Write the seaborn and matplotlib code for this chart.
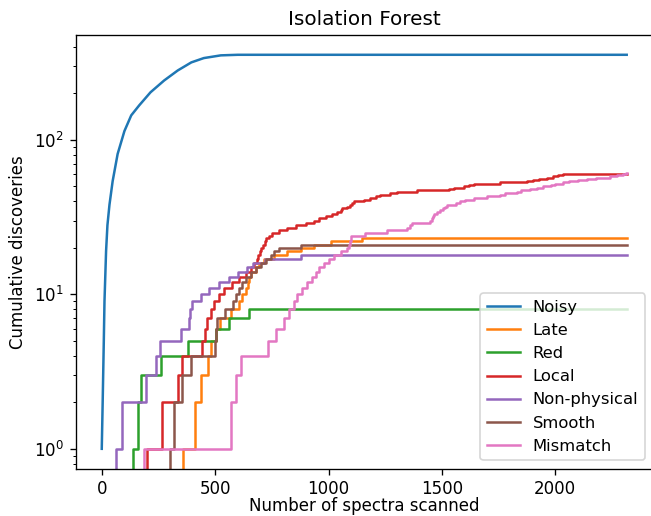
import numpy as np
import pandas as pd
import seaborn as sns
import matplotlib
matplotlib.use("Agg")
import matplotlib.pyplot as plt

# Cumulative discoveries per anomaly class, Isolation Forest ranking

n_scanned = 2315

noisy_x = [0, 4, 9, 12, 19, 25, 34, 48, 70, 100, 130, 165, 215, 275, 335, 395, 450, 525, 600, 650, 2315]
noisy_y = [1, 2, 5, 9, 19, 28, 38, 54, 81, 114, 144, 167, 203, 242, 281, 317, 338, 352, 355, 355, 355]

# other classes: spectrum index at which each new discovery happens
late = [357, 410, 436, 470, 481, 503, 520, 570, 605, 620, 635, 643, 650, 657, 679, 694,
        716, 760, 818, 877, 936, 1012, 1149]
red = [136, 161, 173, 260, 380, 504, 562, 650]
local = [200, 265, 338, 353, 440, 455, 465, 480, 495, 518, 540, 576, 605, 635, 657, 672,
         683, 689, 697, 704, 711, 719, 726, 737, 752, 781, 818, 855, 899, 936, 958, 987,
         1016, 1038, 1053, 1060, 1082, 1095, 1105, 1112, 1156, 1185, 1210, 1229, 1273,
         1302, 1390, 1530, 1552, 1596, 1620, 1640, 1757, 1874, 1900, 1930, 1962, 1990,
         2010, 2036]
non_physical = [63, 88, 197, 240, 259, 349, 383, 388, 400, 437, 475, 515, 560, 600, 640,
                666, 718, 880]
smooth = [299, 318, 354, 394, 498, 503, 508, 545, 577, 591, 605, 620, 635, 657, 679, 701,
          723, 745, 760, 781, 877]
mismatch = [188, 572, 591, 616, 731, 767, 804, 826, 848, 862, 884, 906, 928, 945, 960, 980,
            1002, 1024, 1053, 1082, 1090, 1095, 1097, 1100, 1163, 1258, 1346, 1360, 1368,
            1449, 1455, 1460, 1464, 1480, 1493, 1505, 1515, 1522, 1560, 1581, 1600, 1640,
            1700, 1757, 1780, 1830, 1850, 1889, 1920, 1948, 1980, 2000, 2036, 2060, 2100,
            2139, 2180, 2241, 2270, 2300, 2310]

steps = {
    "Late": late,
    "Red": red,
    "Local": local,
    "Non-physical": non_physical,
    "Smooth": smooth,
    "Mismatch": mismatch,
}

colors = sns.color_palette("tab10")

fig, ax = plt.subplots(figsize=(651 / 120, 516 / 120), dpi=120)
fig.subplots_adjust(left=0.116, right=1.003, top=0.932, bottom=0.092)

sns.lineplot(x=noisy_x, y=noisy_y, color=colors[0], label="Noisy",
             estimator=None, ax=ax)

for i, (name, found) in enumerate(steps.items(), start=1):
    xs = [0] + found + [n_scanned]
    ys = [0] + list(range(1, len(found) + 1)) + [len(found)]
    sns.lineplot(x=xs, y=ys, color=colors[i], label=name, estimator=None,
                 drawstyle="steps-post", ax=ax)

ax.set_yscale("log")
ax.set_title("Isolation Forest")
ax.set_xlabel("Number of spectra scanned", labelpad=-1)
ax.set_ylabel("Cumulative discoveries")
ax.legend(loc="lower right", fontsize=9.8)

fig.savefig("out.png", dpi=120)
